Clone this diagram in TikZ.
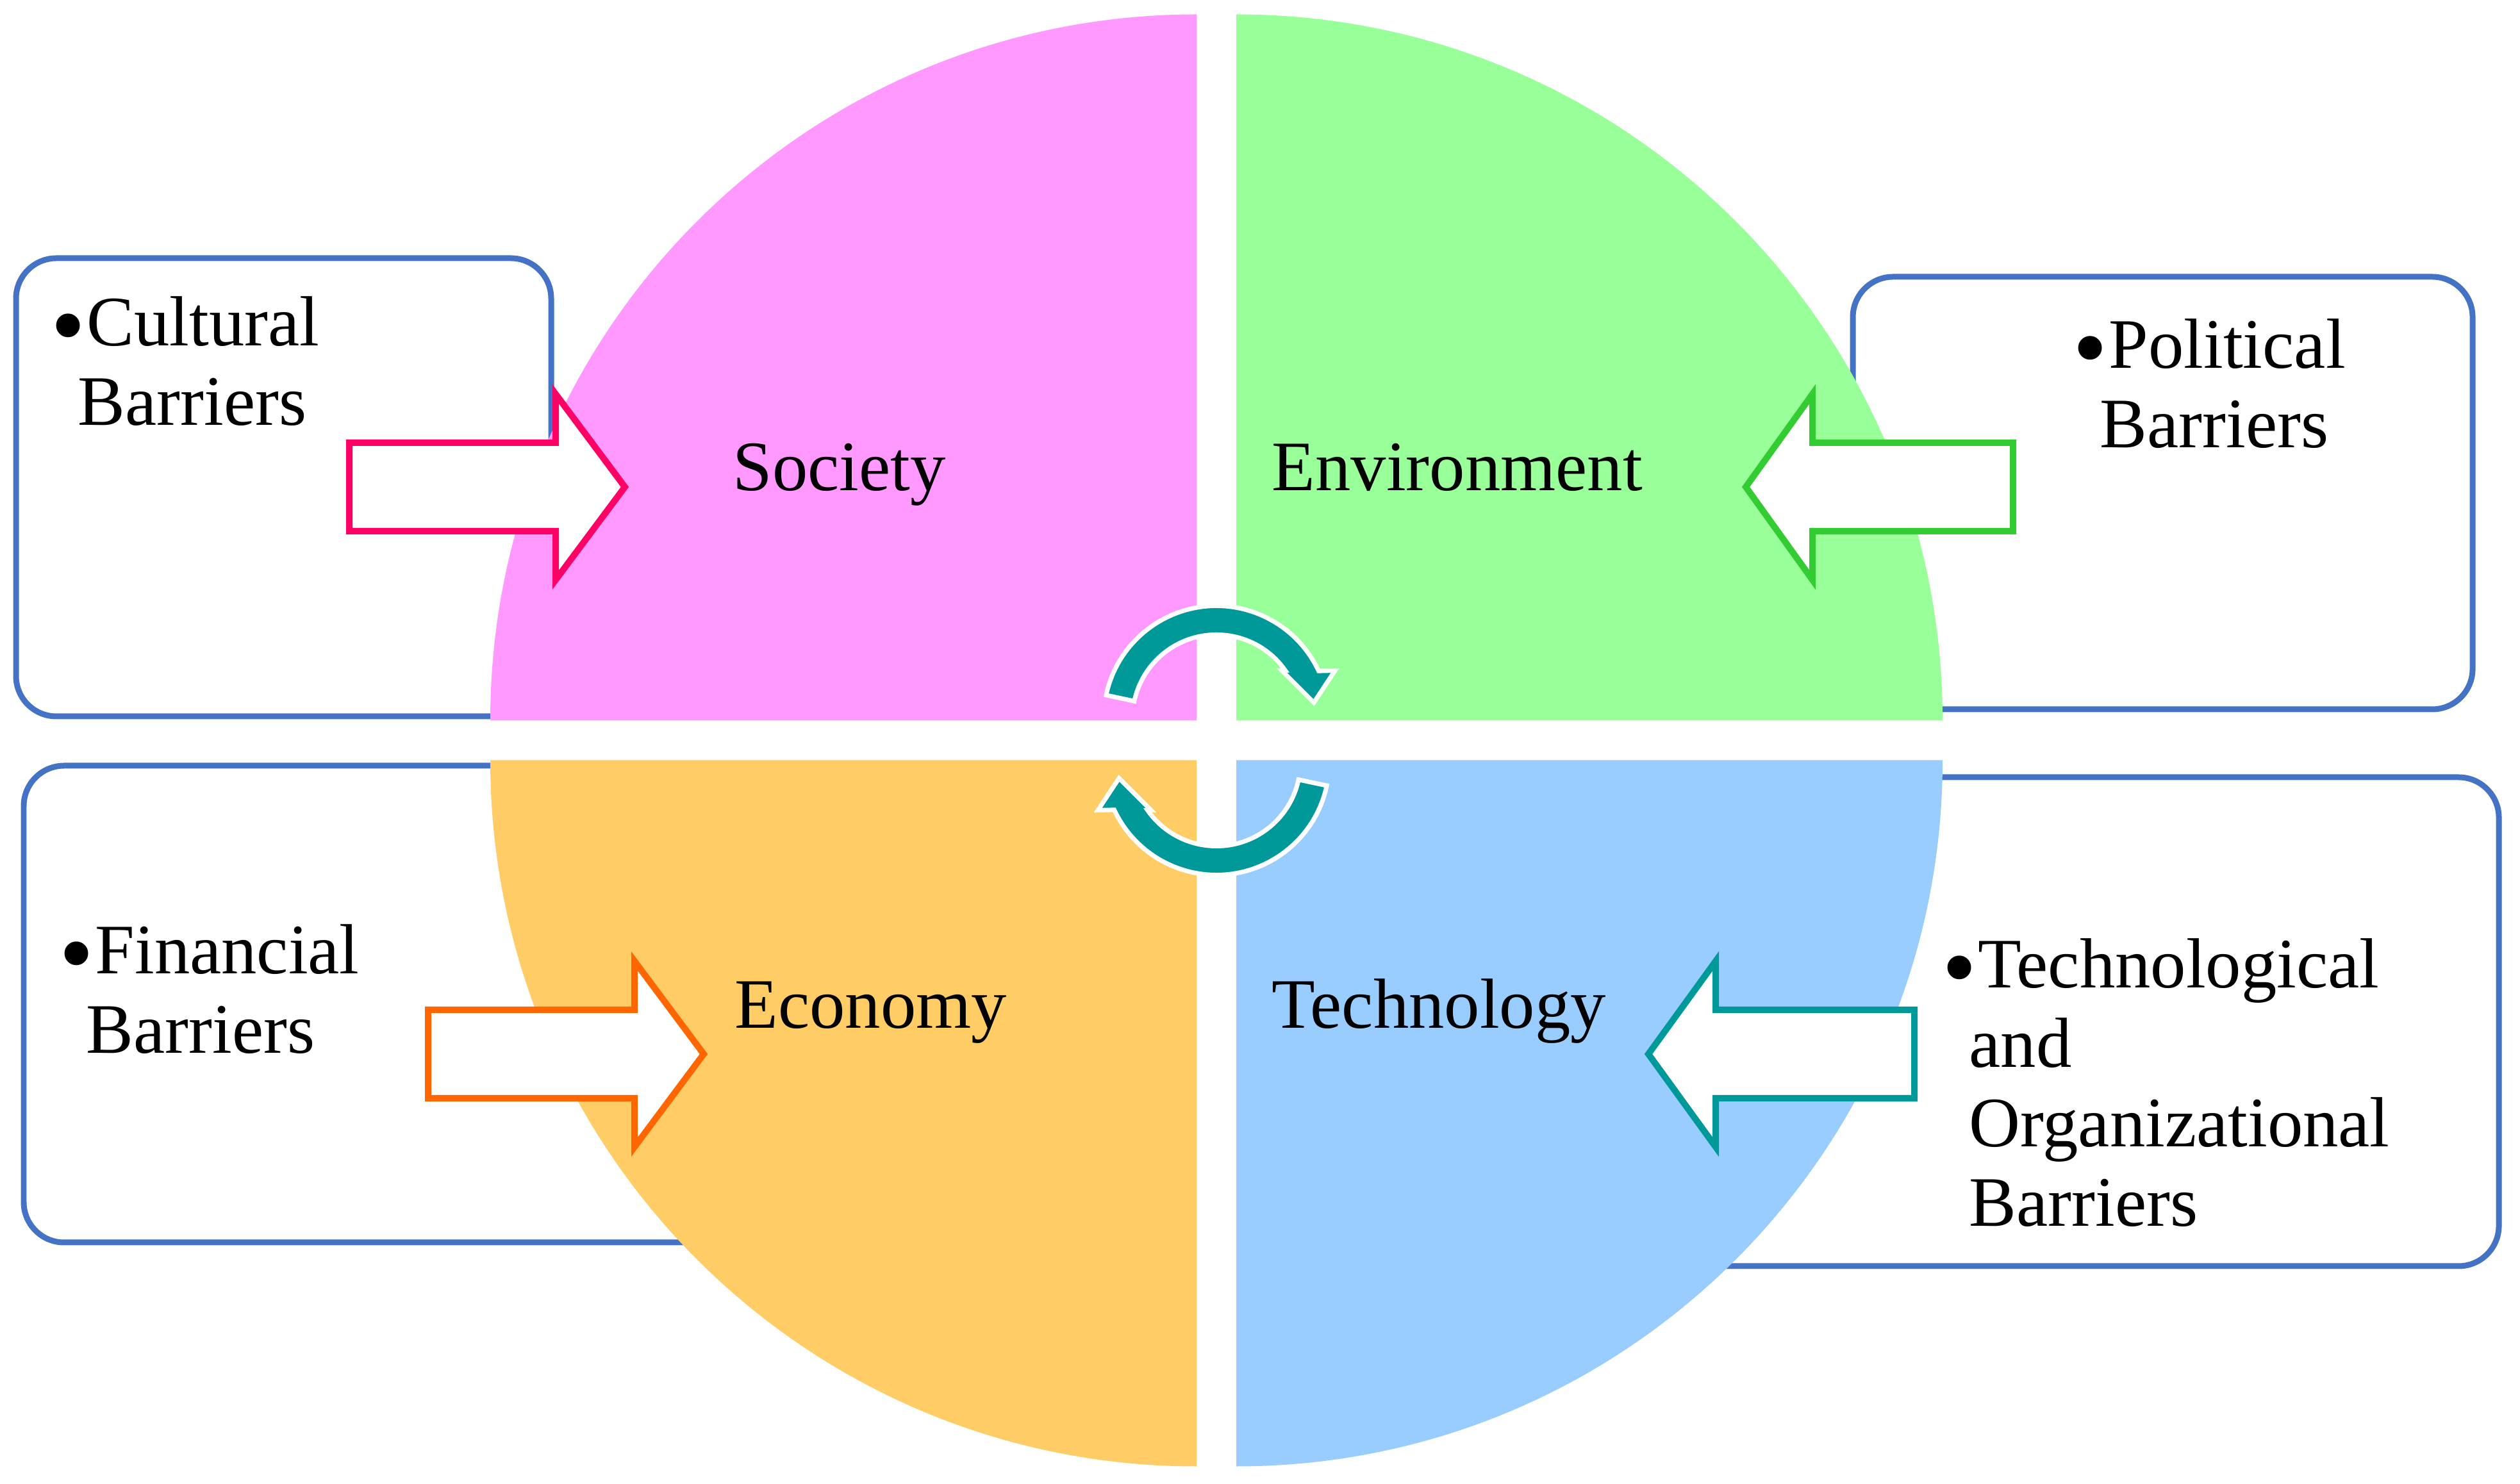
\documentclass[tikz,border=0pt]{standalone}
\usepackage{fontspec}
\setmainfont{Liberation Serif}
\usepackage{xcolor}
\usepackage{tikz}
\usetikzlibrary{calc}

\definecolor{boxblue}{HTML}{4472C4}
\definecolor{societypink}{HTML}{FF99FF}
\definecolor{envgreen}{HTML}{99FF99}
\definecolor{econorange}{HTML}{FFCC66}
\definecolor{techblue}{HTML}{99CCFF}
\definecolor{culturalred}{HTML}{FF0066}
\definecolor{politicalgreen}{HTML}{33CC33}
\definecolor{financialorange}{HTML}{FF6600}
\definecolor{techteal}{HTML}{009999}

\newcommand{\bul}{\makebox[0.56cm][l]{\raisebox{-0.2cm}{\fontsize{44}{44}\selectfont\textbullet}}}
\newcommand{\hang}{\hspace*{0.42cm}}

\begin{document}
\begin{tikzpicture}[
	every node/.style={font=\fontsize{31.5}{35.3}\selectfont, inner sep=0pt},
	barbox/.style={draw=boxblue, line width=0.09cm, rounded corners=0.63cm, fill=white},
	blockarrow/.style={fill=white, line width=0.1cm, line join=miter},
	cyclearrow/.style={fill=techteal, draw=white, line width=0.07cm, line join=miter},
	quartertext/.style={anchor=base west},
	barrier/.style={anchor=base west, align=left},
]
\useasboundingbox (0,0) rectangle (39.32,23.15);
\coordinate (c) at (18.98,11.595);

% boxes sit behind the circle
\draw[barbox] (0.25,11.97) rectangle (8.60,19.12);
\draw[barbox] (28.91,12.08) rectangle (38.58,18.83);
\draw[barbox] (0.37,3.76) rectangle (11.50,11.20);
\draw[barbox] (26.00,3.39) rectangle (38.99,11.02);

% four quarters
\foreach \col/\a/\dx/\dy in {societypink/90/-1/1, envgreen/0/1/1, econorange/180/-1/-1, techblue/270/1/-1}
	\fill[\col] ($(c)+(\dx*0.31,\dy*0.31)$) -- ++(\a:11.02) arc[start angle=\a, delta angle=90, radius=11.02] -- cycle;

% block arrows
\foreach \tail/\base/\tip/\y/\col in {5.45/8.67/9.75/15.55/culturalred, 31.41/28.28/27.24/15.55/politicalgreen, 6.68/9.90/10.98/6.70/financialorange, 29.87/26.77/25.72/6.70/techteal}
	\draw[blockarrow, draw=\col] (\tail,\y-0.69) -- (\base,\y-0.69) -- (\base,\y-1.45) -- (\tip,\y) -- (\base,\y+1.45) -- (\base,\y+0.69) -- (\tail,\y+0.69) -- cycle;

% cycle arrows in the middle
\foreach \r in {0,180}{
	\begin{scope}[shift={(c)}, rotate=\r, shift={(0,0.34)}]
		\draw[cyclearrow] (168:1.76) arc[start angle=168, end angle=25, radius=1.76] -- (1.85,0.75) -- (1.52,0.25) -- (1.02,0.75) -- (35:1.31) arc[start angle=35, end angle=168, radius=1.31] -- cycle;
	\end{scope}
}

\node[quartertext] (society) at (11.43,15.49) {Society};
\node[quartertext] (environment) at (19.84,15.49) {Environment};
\node[quartertext] (economy) at (11.46,7.10) {Economy};
\node[quartertext] (technology) at (19.84,7.10) {Technology};

% base anchor sits on the last line
\node[barrier] (cultural) at (0.79,16.51) {\bul Cultural\\\hang Barriers};
\node[barrier] (political) at (32.34,16.16) {\bul Political\\\hang Barriers};
\node[barrier] (financial) at (0.92,6.71) {\bul Financial\\\hang Barriers};
\node[barrier] (technological) at (30.30,4.01) {\bul Technological\\\hang and\\\hang Organizational\\\hang Barriers};
\end{tikzpicture}
\end{document}
